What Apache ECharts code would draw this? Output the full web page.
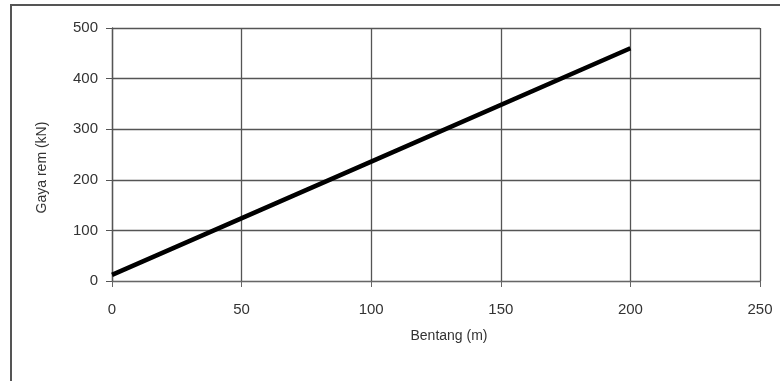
<!DOCTYPE html>
<html>
<head>
<meta charset="utf-8">
<script src="https://cdn.jsdelivr.net/npm/echarts@6/dist/echarts.min.js"></script>
<style>
html,body{margin:0;padding:0;background:#fff;}
#c{width:780px;height:381px;}
</style>
</head>
<body>
<div id="c"></div>
<script>
var spanM = [0, 100, 200];
var brakeKN = [12, 236, 460];
var xTicks = [0, 50, 100, 150, 200, 250];
var yTicks = [0, 100, 200, 300, 400, 500];

var chart = echarts.init(document.getElementById('c'), null, {renderer: 'canvas'});
var pts = spanM.map(function (x, i) { return [x, brakeKN[i]]; });
var font = 'Liberation Sans, Arial, sans-serif';
chart.setOption({
  backgroundColor: '#ffffff',
  animation: false,
  graphic: [{
    type: 'rect',
    shape: {x: 11, y: 5, width: 900, height: 500},
    style: {fill: 'none', stroke: '#555', lineWidth: 2},
    silent: true
  }],
  grid: {left: 112, right: 20, top: 28, bottom: 100},
  xAxis: {
    type: 'value',
    min: xTicks[0], max: xTicks[xTicks.length - 1], interval: 50,
    name: 'Bentang (m)',
    nameLocation: 'middle',
    nameGap: 48,
    nameTextStyle: {fontFamily: font, fontSize: 14, color: '#333', padding: [0, 0, 0, 26]},
    axisLine: {show: true, lineStyle: {color: '#666', width: 1}},
    axisTick: {show: true, length: 6, lineStyle: {color: '#666'}},
    axisLabel: {fontFamily: font, fontSize: 15, color: '#333', margin: 21},
    splitLine: {show: true, lineStyle: {color: '#555', width: 1.3}}
  },
  yAxis: {
    type: 'value',
    min: yTicks[0], max: yTicks[yTicks.length - 1], interval: 100,
    name: 'Gaya rem (kN)',
    nameLocation: 'middle',
    nameGap: 63,
    nameRotate: 90,
    nameTextStyle: {fontFamily: font, fontSize: 14, color: '#333', padding: [0, 26, 0, 0]},
    axisLine: {show: true, lineStyle: {color: '#555', width: 1.3}},
    axisTick: {show: true, length: 6, lineStyle: {color: '#555'}},
    axisLabel: {fontFamily: font, fontSize: 15, color: '#333', margin: 14},
    splitLine: {show: true, lineStyle: {color: '#555', width: 1.3}}
  },
  series: [{
    type: 'line',
    data: pts,
    showSymbol: false,
    symbol: 'none',
    lineStyle: {color: '#000', width: 4.5},
    z: 5
  }]
});
</script>
</body>
</html>
